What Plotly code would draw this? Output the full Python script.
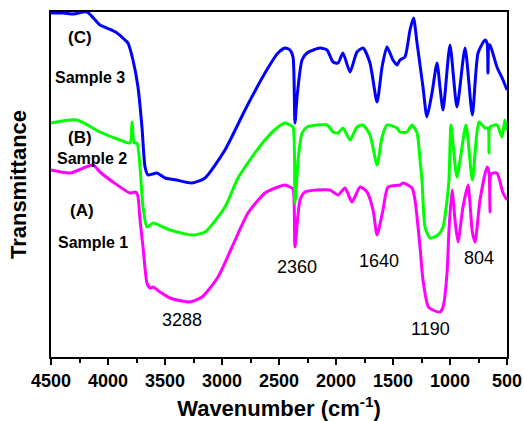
import plotly.graph_objects as go

# FTIR spectra, offset vertically (arbitrary transmittance units)
wn_s3 = [4500, 4395, 4300, 4184, 4070, 3990, 3921, 3860, 3825, 3781, 3737, 3702, 3675,
         3649, 3610, 3570, 3500, 3400, 3263, 3149, 2974, 2798, 2623, 2509, 2447, 2404,
         2377, 2360, 2340, 2298, 2254, 2140, 2079, 2026, 1982, 1939, 1877, 1816, 1763,
         1702, 1640, 1596, 1553, 1500, 1465, 1439, 1395, 1351, 1320, 1289, 1237, 1202,
         1158, 1114, 1088, 1061, 1000, 939, 868, 804, 754, 693, 675, 667, 658, 649, 588,
         535, 500]
t_s3 = [344, 344, 343, 345, 332, 328, 324, 318, 314, 297, 270, 230, 190,
        182, 183, 184, 179, 177, 174, 179, 207, 247, 284, 304, 309, 307,
        300, 234, 262, 297, 304, 309, 307, 295, 294, 304, 285, 305, 309,
        294, 255, 290, 310, 297, 292, 297, 300, 327, 339, 314, 270, 240,
        264, 294, 270, 247, 312, 250, 309, 242, 304, 317, 314, 284, 312, 312, 290,
        277, 267]

wn_s2 = [4500, 4272, 4070, 3895, 3807, 3789, 3770, 3746, 3719, 3710, 3693, 3658, 3605,
         3518, 3456, 3263, 3149, 2974, 2860, 2737, 2623, 2509, 2447, 2404, 2377, 2360,
         2330, 2298, 2254, 2079, 2026, 1982, 1939, 1877, 1816, 1763, 1702, 1640, 1596,
         1553, 1465, 1439, 1377, 1333, 1289, 1263, 1246, 1219, 1175, 1105, 1061, 1026,
         1009, 991, 939, 860, 804, 745, 693, 667, 658, 649, 588, 544, 518, 500]
t_s2 = [234, 237, 225, 217, 214, 235, 214, 214, 190, 175, 150, 130, 134,
        130, 127, 122, 125, 150, 179, 200, 217, 230, 234, 232, 230, 154,
        200, 224, 230, 232, 225, 224, 229, 217, 230, 232, 222, 192, 220,
        232, 229, 225, 225, 232, 224, 197, 177, 130, 119, 122, 130, 157,
        177, 232, 180, 232, 177, 235, 229, 229, 204, 230, 232, 220, 237, 227]

wn_s1 = [4500, 4333, 4132, 4070, 3956, 3807, 3760, 3740, 3719, 3693, 3658, 3632, 3605,
         3544, 3456, 3288, 3175, 3035, 2912, 2772, 2623, 2509, 2447, 2404, 2377, 2360,
         2316, 2272, 2053, 1982, 1921, 1860, 1789, 1728, 1675, 1640, 1588, 1544, 1439,
         1412, 1333, 1307, 1263, 1237, 1190, 1149, 1088, 1061, 1026, 1009, 982, 956,
         930, 886, 842, 804, 780, 737, 675, 658, 649, 640, 588, 535, 500]
t_s1 = [187, 184, 192, 185, 175, 164, 165, 162, 137, 110, 74, 69, 70,
        65, 59, 55, 60, 80, 110, 144, 164, 170, 172, 170, 168, 110,
        157, 165, 167, 162, 169, 155, 170, 165, 147, 122, 147, 170, 172,
        174, 169, 157, 110, 77, 50, 47, 45, 50, 84, 127, 167, 137,
        115, 150, 172, 125, 115, 157, 190, 185, 145, 183, 184, 164, 157]

peak_labels = ["3288", "2360", "1640", "1190", "804"]
peak_label_x = [3351, 2342, 1623, 1175, 746]
peak_label_y = [37, 90, 96, 28, 99]

series_tags = ["(C)", "Sample 3", "(B)", "Sample 2", "(A)", "Sample 1"]
tag_x = [4246, 4158, 4246, 4140, 4228, 4132]
tag_y = [320, 280, 220, 199, 147, 115]

fig = go.Figure()
for wn, t, color, name in [(wn_s1, t_s1, "#FF00FF", "Sample 1"),
                           (wn_s2, t_s2, "#00FF00", "Sample 2"),
                           (wn_s3, t_s3, "#0000FF", "Sample 3")]:
    fig.add_trace(go.Scatter(x=wn, y=t, mode="lines", name=name,
                             line=dict(color=color, width=3, shape="spline", smoothing=0.6)))

for txt, x, y in zip(peak_labels, peak_label_x, peak_label_y):
    fig.add_annotation(x=x, y=y, xref="x", yref="y", text=txt, showarrow=False,
                       font=dict(family="Arial, Liberation Sans", size=18, color="black"))

for txt, x, y in zip(series_tags, tag_x, tag_y):
    size = 17 if txt.startswith("(") else 16
    fig.add_annotation(x=x, y=y, xref="x", yref="y", text="<b>%s</b>" % txt, showarrow=False,
                       font=dict(family="Arial, Liberation Sans", size=size, color="black"))

fig.update_layout(
    width=524, height=421,
    margin=dict(l=51, r=17, t=12, b=64),
    paper_bgcolor="white", plot_bgcolor="white",
    showlegend=False,
    font=dict(family="Arial, Liberation Sans", color="black"),
)
fig.update_xaxes(
    range=[4500, 500], tickmode="linear", tick0=500, dtick=500,
    ticks="outside", ticklen=6, tickwidth=1.5, tickcolor="black",
    minor=dict(ticks="outside", ticklen=4, tickwidth=1.5, tickcolor="black", dtick=250, tick0=500),
    showline=True, linewidth=1.8, linecolor="black", mirror=True,
    showgrid=False, zeroline=False, automargin=False,
    tickfont=dict(size=18, weight="bold"),
    title=dict(text="Wavenumber (cm<sup>-1</sup>)", font=dict(size=22, weight="bold"), standoff=20),
)
fig.update_yaxes(
    range=[0, 345], showticklabels=False, ticks="",
    showline=True, linewidth=1.8, linecolor="black", mirror=True,
    showgrid=False, zeroline=False, automargin=False,
    title=dict(text="Transmittance", font=dict(size=22, weight="bold"), standoff=16),
)

fig.write_html("out.html")
